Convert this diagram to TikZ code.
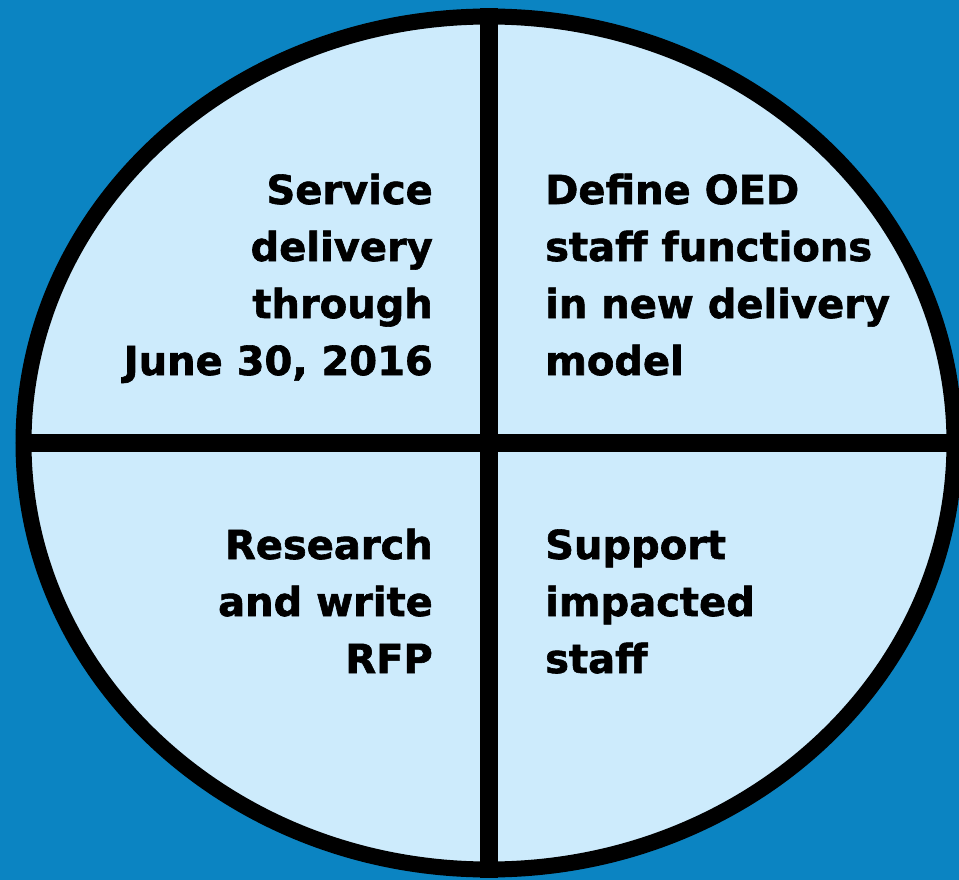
\documentclass[tikz,border=0pt]{standalone}
\usepackage{fontspec}
\setmainfont[BoldFeatures={FakeBold=1.5}]{DejaVu Sans}
\usetikzlibrary{shapes.geometric, positioning}

\definecolor{deepblue}{RGB}{11,132,194}
\definecolor{paleblue}{RGB}{205,235,252}

\begin{document}
\begin{tikzpicture}[
    x=1pt, y=-1pt,
    disc/.style = {ellipse, draw, fill=paleblue, line width=16pt, minimum width=931pt, minimum height=853pt, inner sep=0pt},
    divider/.style = {line width=18pt},
    task/.style = {font=\fontsize{40pt}{57pt}\selectfont\bfseries, inner sep=0pt},
  ]

  % Page and background
  \useasboundingbox (0,0) rectangle (959,880);
  \fill[deepblue] (0,0) rectangle (959,880);

  % The disc and its two dividers
  \node[disc] (disc) at (489,443) {};
  \draw[divider] (disc.north) -- (disc.south);
  \draw[divider] (disc.west) -- (disc.east);

  % Left quarters, right aligned
  \node[task, align=right, anchor=base east] (service) at (433,375) {Service\\delivery\\through\\June 30, 2016};
  \node[task, align=right, anchor=base east] (rfp) at (433,673) {Research\\and write\\RFP};

  % Right quarters, left aligned
  \node[task, align=left, anchor=base west] (define) at (545,375) {Define OED\\staff functions\\in new delivery\\model};
  \node[task, align=left, anchor=base west] (support) at (545,673) {Support\\impacted\\staff};

\end{tikzpicture}
\end{document}
